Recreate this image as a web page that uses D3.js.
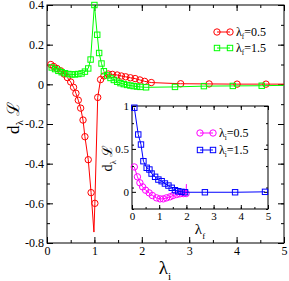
<!DOCTYPE html>
<html>
<head>
<meta charset="utf-8">
<script src="https://cdn.jsdelivr.net/npm/d3@7"></script>
<style>
  body { margin: 0; background: #fff; }
  text { font-family: "Liberation Serif", "DejaVu Serif", serif; fill: #000; }
</style>
</head>
<body>
<div id="chart"></div>
<script>
// main panel: d_lambda L vs lambda_i, lambda_f fixed
const redLamI = [0.08, 0.14, 0.21, 0.29, 0.36, 0.43, 0.5, 0.56, 0.61, 0.66, 0.71, 0.76, 0.8, 0.87, 0.93, 0.99, 1.01, 1.07, 1.13, 1.2, 1.29, 1.38, 1.48, 1.57, 1.66, 1.76, 1.86, 1.96, 2.06, 2.2, 2.82, 3.42, 4.01, 4.62, 5.0];
const redDL = [0.1, 0.09, 0.08, 0.068, 0.052, 0.034, 0.012, -0.015, -0.045, -0.08, -0.12, -0.18, -0.264, -0.38, -0.546, -0.745, -0.6, -0.066, 0.024, 0.042, 0.052, 0.05, 0.047, 0.042, 0.038, 0.033, 0.029, 0.022, 0.015, 0.009, 0.003, 0.002, 0.001, 0.001, 0.001];
const redNoMark = [15, 34];

const greenLamI = [0.1, 0.17, 0.24, 0.31, 0.38, 0.45, 0.52, 0.59, 0.66, 0.73, 0.8, 0.87, 0.92, 1.0, 1.06, 1.1, 1.15, 1.2, 1.27, 1.34, 1.41, 1.48, 1.55, 1.62, 1.69, 1.76, 1.83, 1.9, 1.97, 2.09, 2.7, 3.31, 3.92, 4.53, 5.0];
const greenDL = [0.085, 0.077, 0.068, 0.061, 0.056, 0.052, 0.05, 0.05, 0.052, 0.055, 0.064, 0.08, 0.125, 0.4, 0.25, 0.158, 0.105, 0.066, 0.045, 0.032, 0.022, 0.013, 0.006, 0.001, -0.003, -0.006, -0.009, -0.011, -0.013, -0.015, -0.013, -0.009, -0.008, -0.007, -0.005];
const greenNoMark = [34];

// inset: d_lambda L vs lambda_f, lambda_i fixed
const magLamF = [0.085, 0.2, 0.29, 0.39, 0.5, 0.63, 0.75, 0.9, 1.03, 1.15, 1.27, 1.4, 1.51, 1.64, 1.76, 1.89, 1.99, 2.0];
const magDL = [0.29, 0.175, 0.105, 0.058, 0.019, -0.012, -0.043, -0.07, -0.082, -0.082, -0.07, -0.058, -0.043, -0.031, -0.023, -0.02, -0.02, 0.09];
const magNoMark = [17];

const blueLamF = [0.085, 0.23, 0.33, 0.42, 0.54, 0.64, 0.72, 0.85, 0.97, 1.09, 1.21, 1.34, 1.46, 1.58, 1.7, 1.82, 1.95, 2.68, 3.79, 4.89];
const blueDL = [0.98, 0.668, 0.551, 0.357, 0.28, 0.26, 0.213, 0.175, 0.143, 0.124, 0.097, 0.073, 0.047, 0.019, 0.007, 0, -0.005, -0.005, -0.005, 0];
const blueNoMark = [];

const mainXTicks = [0, 1, 2, 3, 4, 5];
const mainYTicks = [-0.8, -0.6, -0.4, -0.2, 0, 0.2, 0.4];
const insetXTicks = [0, 1, 2, 3, 4, 5];
const insetYTicks = [0, 0.5, 1];

const width = 289;
const height = 281;

const svg = d3.select("#chart")
    .append("svg")
    .attr("width", width)
    .attr("height", height);

svg.append("rect").attr("width", width).attr("height", height).attr("fill", "#fff");

const x = d3.scaleLinear().domain([0, 5]).range([47, 284]);
const y = d3.scaleLinear().domain([-0.8, 0.4]).range([243, 5]);
const xi = d3.scaleLinear().domain([0, 5]).range([132, 268]);
const yi = d3.scaleLinear().domain([-0.2, 1]).range([209, 106]);

const fmt = d => String(+d.toFixed(2));

function frame(g, sx, sy, o) {
    const [x0, x1] = sx.range();
    const [y0, y1] = sy.range();
    const xMinor = d3.range(sx.domain()[0], sx.domain()[1] + 1e-9, o.xStep);
    const yMinor = d3.range(sy.domain()[0], sy.domain()[1] + 1e-9, o.yStep);

    const axes = [
        [d3.axisBottom(sx), y0, 0, o.xTicks, xMinor, true],
        [d3.axisTop(sx), y1, 0, o.xTicks, xMinor, false],
        [d3.axisLeft(sy), 0, x0, o.yTicks, yMinor, true],
        [d3.axisRight(sy), 0, x1, o.yTicks, yMinor, false]
    ];
    axes.forEach(([ax, ty, tx, maj, minr, lab]) => {
        g.append("g")
            .attr("transform", `translate(${tx},${ty})`)
            .call(ax.tickValues(minr).tickSize(-o.minor).tickSizeOuter(0).tickFormat(""))
            .call(s => s.select(".domain").remove());
        const a = g.append("g")
            .attr("transform", `translate(${tx},${ty})`)
            .call(ax.tickValues(maj).tickSize(-o.major).tickSizeOuter(0)
                .tickPadding(o.pad).tickFormat(lab ? fmt : ""))
            .call(s => s.select(".domain").remove());
        a.attr("font-family", null).attr("font-size", null);
        a.selectAll("text").attr("font-size", o.fs);
    });
    g.selectAll(".tick line").attr("stroke", "#000");
    g.append("rect")
        .attr("x", x0).attr("y", y1)
        .attr("width", x1 - x0).attr("height", y0 - y1)
        .attr("fill", "none").attr("stroke", "#000");
}

function series(g, sx, sy, xs, ys, noMark, color, shape, r) {
    const pts = xs.map((v, i) => [v, ys[i], i]);
    g.append("path")
        .attr("d", d3.line().x(d => sx(d[0])).y(d => sy(d[1]))(pts))
        .attr("fill", "none").attr("stroke", color).attr("stroke-width", 1);
    marks(g, pts.filter(d => !noMark.includes(d[2])).map(d => [sx(d[0]), sy(d[1])]), color, shape, r);
}

function marks(g, pts, color, shape, r) {
    if (shape === "circle") {
        g.selectAll(null).data(pts).enter().append("circle")
            .attr("cx", d => d[0]).attr("cy", d => d[1]).attr("r", r)
            .attr("fill", "none").attr("stroke", color);
    } else {
        g.selectAll(null).data(pts).enter().append("rect")
            .attr("x", d => d[0] - r).attr("y", d => d[1] - r)
            .attr("width", 2 * r).attr("height", 2 * r)
            .attr("fill", "none").attr("stroke", color);
    }
}

function legendRow(g, lx, ly, color, shape, r, sub, val, fs) {
    g.append("line").attr("x1", lx).attr("x2", lx + 13).attr("y1", ly).attr("y2", ly)
        .attr("stroke", color);
    marks(g, [[lx, ly], [lx + 13, ly]], color, shape, r);
    const t = g.append("text").attr("x", lx + 19).attr("y", ly + 4).attr("font-size", fs);
    t.append("tspan").text("λ");
    t.append("tspan").attr("font-size", fs * 0.6).attr("dy", 3).text(sub);
    t.append("tspan").attr("dy", -3).text("=" + val);
}

function dLabel(g, cx, cy, fs) {
    const t = g.append("text")
        .attr("transform", `translate(${cx},${cy}) rotate(-90)`)
        .attr("text-anchor", "middle").attr("font-size", fs);
    t.append("tspan").text("d");
    t.append("tspan").attr("font-size", fs * 0.65).attr("dy", fs * 0.25).text("λ");
    t.append("tspan").attr("dy", -fs * 0.25).text(" ℒ");
}

function lamLabel(g, cx, by, fs, sub) {
    const t = g.append("text").attr("x", cx).attr("y", by)
        .attr("text-anchor", "middle").attr("font-size", fs);
    t.append("tspan").text("λ");
    t.append("tspan").attr("font-size", fs * 0.6).attr("dy", fs * 0.3).text(sub);
}

// main panel
const main = svg.append("g");
frame(main, x, y, { xTicks: mainXTicks, yTicks: mainYTicks, xStep: 0.5, yStep: 0.1,
    major: 6, minor: 3, pad: 3, fs: 12 });
series(main, x, y, redLamI, redDL, redNoMark, "#ff0000", "circle", 3.2);
series(main, x, y, greenLamI, greenDL, greenNoMark, "#00ff00", "square", 2.7);
legendRow(main, 217, 32, "#ff0000", "circle", 3.2, "f", "0.5", 12);
legendRow(main, 217, 48, "#00ff00", "square", 2.7, "f", "1.5", 12);
dLabel(main, 19, 118, 17);
lamLabel(main, 165, 274, 19, "i");

// inset
const inset = svg.append("g");
inset.append("rect").attr("x", 132).attr("y", 106).attr("width", 136).attr("height", 103)
    .attr("fill", "#fff");
frame(inset, xi, yi, { xTicks: insetXTicks, yTicks: insetYTicks, xStep: 0.5, yStep: 0.25,
    major: 4, minor: 2, pad: 3, fs: 11 });
series(inset, xi, yi, magLamF, magDL, magNoMark, "#ff00ff", "circle", 3.2);
series(inset, xi, yi, blueLamF, blueDL, blueNoMark, "#0000ff", "square", 2.7);
legendRow(inset, 200, 133, "#ff00ff", "circle", 3.2, "i", "0.5", 12);
legendRow(inset, 200, 150, "#0000ff", "square", 2.7, "i", "1.5", 12);
dLabel(inset, 112, 158, 14);
lamLabel(inset, 200, 234, 15, "f");
</script>
</body>
</html>
